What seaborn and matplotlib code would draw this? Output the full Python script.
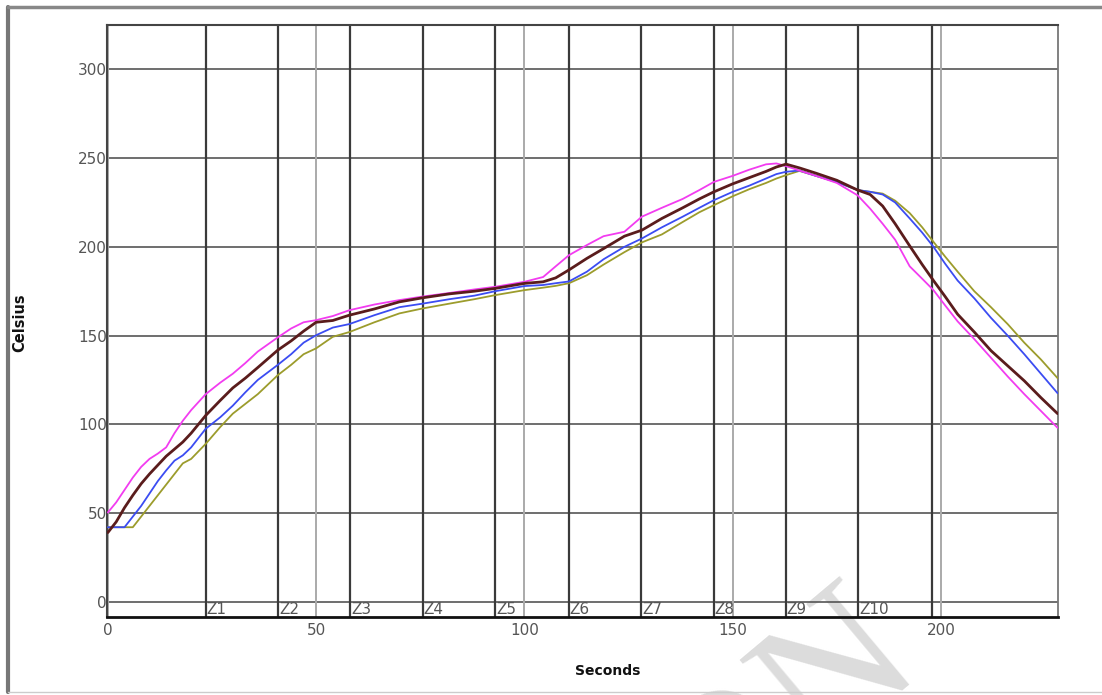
import matplotlib
matplotlib.use("Agg")
import numpy as np
import pandas as pd
import matplotlib.pyplot as plt
import seaborn as sns
from matplotlib.lines import Line2D

# reflow profile, four probes
seconds = [0, 2, 4, 6, 8, 10, 12, 14, 16, 18, 20, 23.5, 27, 30, 33, 36, 40.8, 44, 47, 50,
           54, 58, 64, 70, 75.6, 82, 88, 93, 100, 104.5, 107.5, 110.7, 115, 119, 124, 128.2,
           133, 138, 142, 145.5, 150, 154, 158, 160.5, 162.8, 166, 170, 175, 180, 183, 186,
           189, 192.5, 195.5, 198.2, 201, 204, 208, 212, 216, 220, 224, 228]

magenta = [50.3, 56, 63, 70, 76, 80.5, 83.5, 87, 95, 102, 108, 117, 123.5, 128.5, 134.5, 141, 149, 154, 157.5, 158.7,
           161, 164.3, 167.5, 170, 172, 174, 176, 177.5, 180.3, 183, 189, 195.3, 201, 206, 208.5, 217,
           222, 227, 232, 236.6, 240, 243.5, 246.5, 247, 245.5, 243, 240, 236, 229, 221.5, 213,
           204, 189, 182, 175.6, 167, 158, 148, 137.5, 127, 117, 107.5, 98]

brown = [39, 45, 53, 60, 66.5, 72, 77, 82, 86, 90, 95, 105, 113.5, 120.5, 126, 132, 141.8, 147, 152.5, 157.5,
         158.5, 161.5, 165, 169, 171.3, 173.5, 175, 176.6, 179.4, 180.3, 182.5, 187, 193.5, 199, 206, 209.4,
         216, 222, 227, 231, 235.5, 239, 242.5, 245, 246.6, 244.5, 241.5, 237.5, 232, 229.5, 223,
         213, 200.5, 190, 181, 172, 162, 152, 141.5, 133, 124.5, 115, 106]

blue = [42, 42, 42, 48, 54, 61, 68, 74, 79.5, 82.5, 87, 97.5, 104, 110.5, 118, 125, 133.5, 139.5, 146, 150.2,
        154.5, 156.5, 161.5, 166, 168, 170.5, 172.5, 175, 177.9, 178.5, 179.5, 180.5, 186, 193, 200, 204.7,
        211, 217, 222, 226.3, 231, 234.5, 238.5, 241, 242.3, 243, 240, 236.5, 232, 231, 229.5,
        225, 216, 208, 200, 190.5, 181, 171, 160, 150, 139.5, 128.5, 117.5]

olive = [42, 42, 42, 42, 48, 54, 60, 66, 72, 78, 80.5, 89, 98.5, 106, 111.5, 117, 127.7, 133.5, 139.5, 142.8,
         149.3, 152, 157.5, 162.5, 165.3, 168, 170.5, 172.8, 175.6, 177, 178, 179.5, 184, 190, 197, 202.5,
         207, 214, 219.5, 223.5, 228.5, 232.5, 236, 238.5, 240.4, 242.8, 240, 236.5, 232, 231, 230,
         226, 219, 211, 202.8, 194.5, 186, 175, 166, 156.5, 146, 136.5, 126]

zone_starts = [23.5, 40.9, 58.2, 75.6, 93.0, 110.6, 128.1, 145.5, 162.8, 180.1]
zone_names = ["Z1", "Z2", "Z3", "Z4", "Z5", "Z6", "Z7", "Z8", "Z9", "Z10"]
zone_end = 197.8

df = pd.DataFrame({"Seconds": seconds, "magenta": magenta, "brown": brown,
                   "blue": blue, "olive": olive})

sns.set_style("white")
plt.rcParams["font.family"] = ["DejaVu Sans"]

fig = plt.figure(figsize=(11.02, 6.95), dpi=100)
ax = fig.add_axes([0.0971, 0.1122, 0.863, 0.8518])
ax.set_facecolor("none")

# grid
for v in range(0, 301, 50):
    ax.axhline(v, color="#555555", lw=1.2, zorder=1)
for v in range(0, 201, 50):
    ax.axvline(v, color="#aaaaaa", lw=1.4, zorder=1)
for z in zone_starts + [zone_end]:
    ax.axvline(z, color="#3a3a3a", lw=1.6, zorder=2)

for z, name in zip(zone_starts, zone_names):
    ax.text(z + 0.2, -4.4, name, ha="left", va="center", fontsize=11, color="#555555")

sns.lineplot(data=df, x="Seconds", y="olive", color="#9c9c2c", lw=1.3, ax=ax, zorder=4)
sns.lineplot(data=df, x="Seconds", y="blue", color="#3b4cf2", lw=1.3, ax=ax, zorder=4)
sns.lineplot(data=df, x="Seconds", y="magenta", color="#f23cf0", lw=1.3, ax=ax, zorder=4)
sns.lineplot(data=df, x="Seconds", y="brown", color="#5a1c1c", lw=2.0, ax=ax, zorder=5)

ax.set_xlim(-0.2, 228.1)
ax.set_ylim(-8.6, 325)
ax.set_xticks([0, 50, 100, 150, 200])
ax.set_yticks(range(0, 301, 50))
ax.tick_params(axis="both", length=0, labelsize=11, labelcolor="#555555")
ax.tick_params(axis="y", pad=0)
ax.tick_params(axis="x", pad=4)
ax.set_xlabel("")
ax.set_ylabel("")

for side in ["left", "top"]:
    ax.spines[side].set_color("#444444")
    ax.spines[side].set_linewidth(1.5)
ax.spines["right"].set_color("#777777")
ax.spines["right"].set_linewidth(1.3)
ax.spines["bottom"].set_color("#111111")
ax.spines["bottom"].set_linewidth(2.0)

fig.text(0.0175, 0.535, "Celsius", rotation=90, ha="center", va="center",
         fontsize=10.5, fontweight="bold", color="#111111")
fig.text(0.551, 0.035, "Seconds", ha="center", va="center",
         fontsize=10, fontweight="bold", color="#111111")

# outer frame of the page
fig.add_artist(Line2D([0.0073, 0.0073], [0.004, 0.99], color="#777777", lw=3))
fig.add_artist(Line2D([0.0073, 1.0], [0.99, 0.99], color="#888888", lw=2.5))
fig.add_artist(Line2D([0.0073, 1.0], [0.004, 0.004], color="#cccccc", lw=1))

# faint watermark in the corner, cut by the page edge as in the scan
fig.text(0.838, 0.042, "ON", rotation=40, ha="right", va="baseline", rotation_mode="anchor",
         fontsize=140, family="Liberation Serif", color="#dcdcdc", zorder=-1)

fig.savefig("out.png", dpi=100)
